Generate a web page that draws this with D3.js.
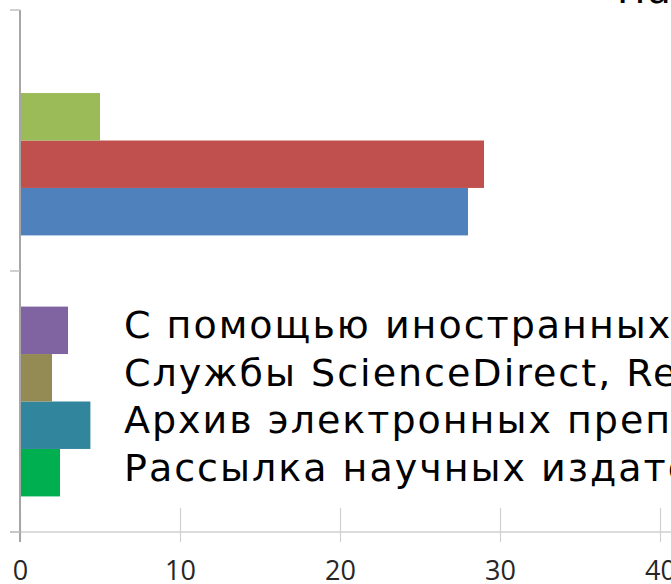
<!DOCTYPE html>
<html>
<head>
<meta charset="utf-8">
<script src="https://cdn.jsdelivr.net/npm/d3@7"></script>
<style>
  html, body { margin: 0; padding: 0; background: #ffffff; overflow: hidden; }
  svg { display: block; }
</style>
</head>
<body>
<svg id="chart" width="671" height="584"></svg>
<script>
// ---- data ----
const groups = ["Нижняя группа", "Верхняя группа"];          // bottom → top
const slots = [0, 1, 2, 3];                                   // bottom → top within a group
const topGroupValues = [28, 29, 5, 0];
const topGroupColors = ["#4F81BD", "#C0504D", "#9BBB59", "#ffffff"];
const bottomGroupValues = [2.5, 4.4, 2, 3];
const bottomGroupColors = ["#00B050", "#31859C", "#948A54", "#8064A2"];
const legendLabels = [                                        // bottom → top, matching bottom group slots
  "Рассылка научных издательств",
  "Архив электронных препринтов",
  "Службы ScienceDirect, ResearchGate",
  "С помощью иностранных коллег"
];
const topLegendLabel = "На научных конференциях";
const xTicks = [0, 10, 20, 30, 40];

// ---- chart ----
const svg = d3.select("#chart");
const mLeft = 20, mRight = 660, mTop = 10, mBottom = 532;

const x = d3.scaleLinear().domain([0, 40]).range([mLeft, mRight]);
const y0 = d3.scaleBand().domain(groups).range([mBottom, mTop]).padding(0);
const y1 = d3.scaleBand().domain(slots).range([y0.bandwidth(), 0]).paddingInner(0).paddingOuter(0.75);

const data = [
  { group: groups[1], values: topGroupValues, colors: topGroupColors },
  { group: groups[0], values: bottomGroupValues, colors: bottomGroupColors }
];

// x axis line + ticks
svg.append("line")
  .attr("x1", 10).attr("x2", 671).attr("y1", mBottom).attr("y2", mBottom)
  .attr("stroke", "#d0d0d0").attr("stroke-width", 1.5);

const xAxis = svg.append("g").attr("transform", `translate(0,${mBottom})`)
  .call(d3.axisBottom(x).tickValues(xTicks).tickSize(0).tickFormat(d3.format("d")));
xAxis.select(".domain").remove();
xAxis.selectAll(".tick").append("line")
  .attr("y1", -24).attr("y2", 10)
  .attr("stroke", "#d0d0d0").attr("stroke-width", 1.2);
xAxis.selectAll(".tick text")
  .attr("y", 48)
  .attr("dy", 0)
  .attr("font-family", "'Open Sans', sans-serif")
  .attr("font-size", 27)
  .attr("fill", "#262626");

// bars
data.forEach(g => {
  const gy = y0(g.group);
  svg.append("g").selectAll("rect")
    .data(g.values.map((v, i) => ({ v, i, c: g.colors[i] })).filter(d => d.v > 0))
    .join("rect")
    .attr("x", x(0))
    .attr("y", d => gy + y1(d.i))
    .attr("width", d => x(d.v) - x(0))
    .attr("height", y1.bandwidth())
    .attr("fill", d => d.c);
});

// y axis line + ticks
svg.append("line")
  .attr("x1", mLeft).attr("x2", mLeft).attr("y1", mTop).attr("y2", mBottom + 10)
  .attr("stroke", "#a6a6a6").attr("stroke-width", 2);
const yTickPos = [mTop, y0(groups[1]) + y0.bandwidth(), mBottom];
svg.append("g").selectAll("line").data(yTickPos).join("line")
  .attr("x1", 10).attr("x2", mLeft).attr("y1", d => d).attr("y2", d => d)
  .attr("stroke", "#c0c0c0").attr("stroke-width", 1.5);

// legend text next to the lower group
const gyB = y0(groups[0]);
svg.append("g").selectAll("text").data(legendLabels).join("text")
  .attr("x", 124)
  .attr("y", (d, i) => gyB + y1(i) + y1.bandwidth() / 2 + 8)
  .attr("font-family", "'DejaVu Sans', sans-serif")
  .attr("font-size", 38)
  .attr("letter-spacing", 2)
  .attr("fill", "#000000")
  .text(d => d);

// partially visible text at top right
svg.append("text")
  .attr("x", 617).attr("y", 3)
  .attr("font-family", "'DejaVu Sans', sans-serif")
  .attr("font-size", 38)
  .attr("letter-spacing", 2)
  .attr("fill", "#000000")
  .text(topLegendLabel);
</script>
</body>
</html>
